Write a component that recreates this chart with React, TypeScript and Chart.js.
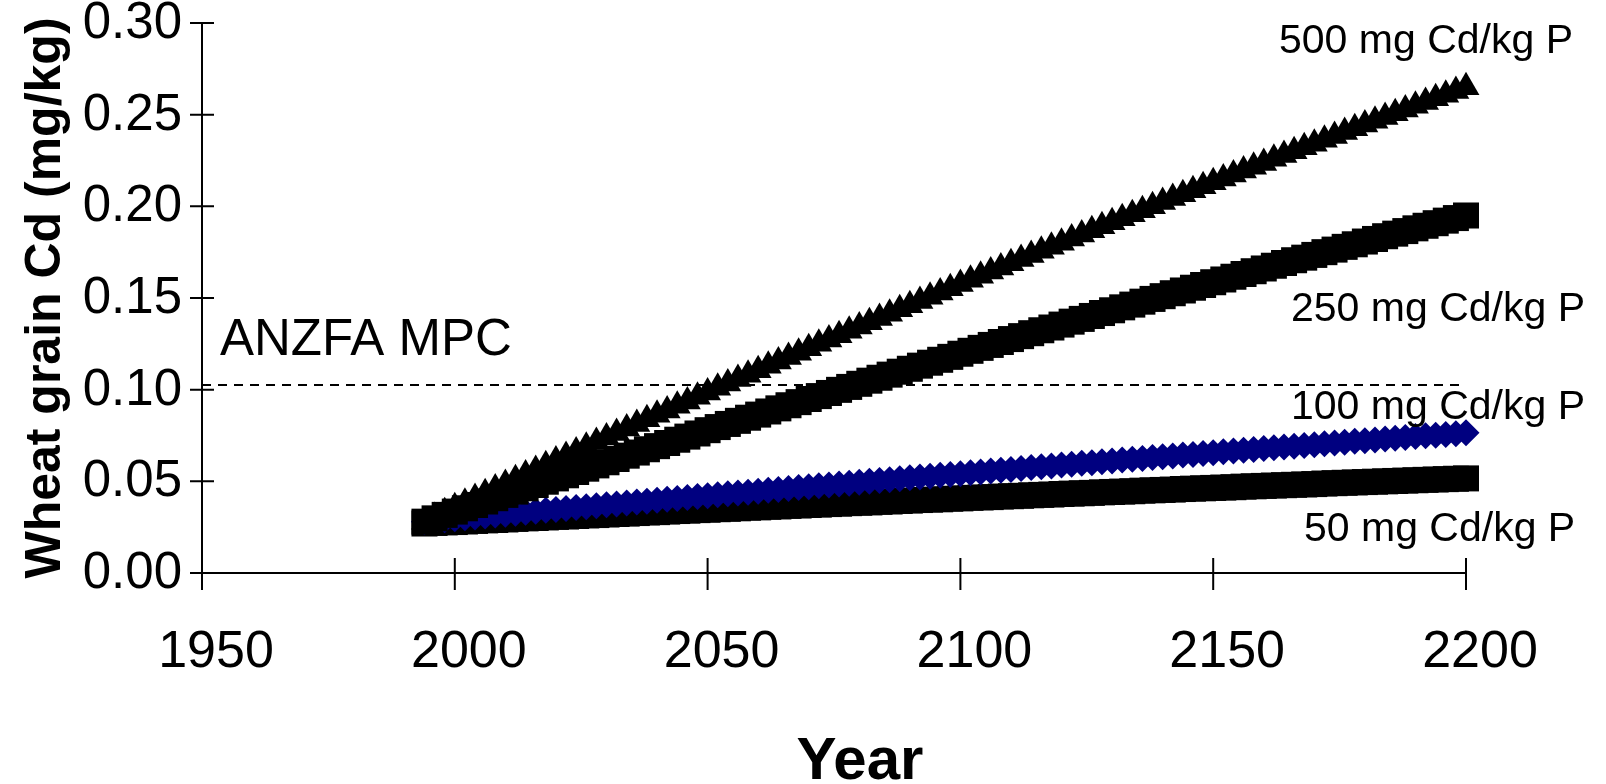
import React, { useEffect, useRef } from "react";
import { Chart, registerables } from "chart.js";

Chart.register(...registerables);

const years = [
  1994, 1996, 1998, 2000, 2002, 2004, 2006, 2008, 2010, 2012, 2014, 2016, 2018, 2020, 2022, 2024, 2026, 2028, 2030, 2032,
  2034, 2036, 2038, 2040, 2042, 2044, 2046, 2048, 2050, 2052, 2054, 2056, 2058, 2060, 2062, 2064, 2066, 2068, 2070, 2072,
  2074, 2076, 2078, 2080, 2082, 2084, 2086, 2088, 2090, 2092, 2094, 2096, 2098, 2100, 2102, 2104, 2106, 2108, 2110, 2112,
  2114, 2116, 2118, 2120, 2122, 2124, 2126, 2128, 2130, 2132, 2134, 2136, 2138, 2140, 2142, 2144, 2146, 2148, 2150, 2152,
  2154, 2156, 2158, 2160, 2162, 2164, 2166, 2168, 2170, 2172, 2174, 2176, 2178, 2180, 2182, 2184, 2186, 2188, 2190, 2192,
  2194, 2196, 2198, 2200,
];

const cd500 = [
  0.028, 0.0306, 0.0332, 0.0358, 0.0383, 0.0409, 0.0435, 0.0461, 0.0486, 0.0512,
  0.0537, 0.0562, 0.0588, 0.0613, 0.0638, 0.0663, 0.0689, 0.0714, 0.0739, 0.0763,
  0.0788, 0.0813, 0.0838, 0.0863, 0.0887, 0.0912, 0.0936, 0.0961, 0.0985, 0.101,
  0.1034, 0.1058, 0.1082, 0.1106, 0.113, 0.1154, 0.1178, 0.1202, 0.1226, 0.125,
  0.1273, 0.1297, 0.1321, 0.1344, 0.1368, 0.1391, 0.1414, 0.1438, 0.1461, 0.1484,
  0.1507, 0.153, 0.1553, 0.1576, 0.1599, 0.1622, 0.1645, 0.1667, 0.169, 0.1713,
  0.1735, 0.1758, 0.178, 0.1802, 0.1825, 0.1847, 0.1869, 0.1891, 0.1913, 0.1935,
  0.1957, 0.1979, 0.2001, 0.2023, 0.2045, 0.2066, 0.2088, 0.2109, 0.2131, 0.2152,
  0.2174, 0.2195, 0.2216, 0.2237, 0.2259, 0.228, 0.2301, 0.2322, 0.2342, 0.2363,
  0.2384, 0.2405, 0.2426, 0.2446, 0.2467, 0.2487, 0.2508, 0.2528, 0.2548, 0.2569,
  0.2589, 0.2609, 0.2629, 0.2649,
];

const cd250 = [
  0.028, 0.0298, 0.0317, 0.0335, 0.0353, 0.0371, 0.039, 0.0408, 0.0426, 0.0444,
  0.0462, 0.048, 0.0498, 0.0516, 0.0533, 0.0551, 0.0569, 0.0587, 0.0604, 0.0622,
  0.064, 0.0657, 0.0675, 0.0692, 0.0709, 0.0727, 0.0744, 0.0761, 0.0779, 0.0796,
  0.0813, 0.083, 0.0847, 0.0864, 0.0881, 0.0898, 0.0915, 0.0932, 0.0949, 0.0965,
  0.0982, 0.0999, 0.1015, 0.1032, 0.1049, 0.1065, 0.1082, 0.1098, 0.1114, 0.1131,
  0.1147, 0.1163, 0.1179, 0.1196, 0.1212, 0.1228, 0.1244, 0.126, 0.1276, 0.1292,
  0.1308, 0.1324, 0.1339, 0.1355, 0.1371, 0.1386, 0.1402, 0.1418, 0.1433, 0.1449,
  0.1464, 0.148, 0.1495, 0.151, 0.1526, 0.1541, 0.1556, 0.1571, 0.1586, 0.1601,
  0.1616, 0.1631, 0.1646, 0.1661, 0.1676, 0.1691, 0.1706, 0.172, 0.1735, 0.175,
  0.1764, 0.1779, 0.1793, 0.1808, 0.1822, 0.1837, 0.1851, 0.1865, 0.188, 0.1894,
  0.1908, 0.1922, 0.1936, 0.195,
];

const cd100 = [
  0.028, 0.0285, 0.029, 0.0296, 0.0301, 0.0306, 0.0311, 0.0316, 0.0321, 0.0326,
  0.0332, 0.0337, 0.0342, 0.0347, 0.0352, 0.0357, 0.0362, 0.0367, 0.0372, 0.0377,
  0.0382, 0.0387, 0.0392, 0.0397, 0.0402, 0.0407, 0.0412, 0.0417, 0.0422, 0.0427,
  0.0432, 0.0437, 0.0441, 0.0446, 0.0451, 0.0456, 0.0461, 0.0466, 0.0471, 0.0476,
  0.048, 0.0485, 0.049, 0.0495, 0.05, 0.0504, 0.0509, 0.0514, 0.0519, 0.0523,
  0.0528, 0.0533, 0.0537, 0.0542, 0.0547, 0.0551, 0.0556, 0.0561, 0.0565, 0.057,
  0.0575, 0.0579, 0.0584, 0.0589, 0.0593, 0.0598, 0.0602, 0.0607, 0.0611, 0.0616,
  0.062, 0.0625, 0.063, 0.0634, 0.0638, 0.0643, 0.0647, 0.0652, 0.0656, 0.0661,
  0.0665, 0.067, 0.0674, 0.0679, 0.0683, 0.0687, 0.0692, 0.0696, 0.07, 0.0705,
  0.0709, 0.0713, 0.0718, 0.0722, 0.0726, 0.0731, 0.0735, 0.0739, 0.0744, 0.0748,
  0.0752, 0.0756, 0.076, 0.0765,
];

const cd50 = [
  0.027, 0.0273, 0.0276, 0.0278, 0.0281, 0.0284, 0.0287, 0.0289, 0.0292, 0.0295,
  0.0298, 0.03, 0.0303, 0.0306, 0.0308, 0.0311, 0.0314, 0.0316, 0.0319, 0.0322,
  0.0324, 0.0327, 0.033, 0.0332, 0.0335, 0.0338, 0.034, 0.0343, 0.0345, 0.0348,
  0.035, 0.0353, 0.0356, 0.0358, 0.0361, 0.0363, 0.0366, 0.0368, 0.0371, 0.0373,
  0.0376, 0.0378, 0.0381, 0.0383, 0.0385, 0.0388, 0.039, 0.0393, 0.0395, 0.0398,
  0.04, 0.0402, 0.0405, 0.0407, 0.041, 0.0412, 0.0414, 0.0417, 0.0419, 0.0421,
  0.0424, 0.0426, 0.0428, 0.0431, 0.0433, 0.0435, 0.0437, 0.044, 0.0442, 0.0444,
  0.0446, 0.0449, 0.0451, 0.0453, 0.0455, 0.0458, 0.046, 0.0462, 0.0464, 0.0466,
  0.0468, 0.0471, 0.0473, 0.0475, 0.0477, 0.0479, 0.0481, 0.0483, 0.0485, 0.0488,
  0.049, 0.0492, 0.0494, 0.0496, 0.0498, 0.05, 0.0502, 0.0504, 0.0506, 0.0508,
  0.051, 0.0512, 0.0514, 0.0516,
];

const mpcYears = [1950, 2200];
const mpcValue = [0.1025, 0.1025];

const xTicks = [1950, 2000, 2050, 2100, 2150, 2200];
const yTicks = [0, 0.05, 0.1, 0.15, 0.2, 0.25, 0.3];
const yTickLabels = ["0.00", "0.05", "0.10", "0.15", "0.20", "0.25", "0.30"];

const seriesLabels = ["500 mg Cd/kg P", "250 mg Cd/kg P", "100 mg Cd/kg P", "50 mg Cd/kg P"];
const mpcLabel = "ANZFA MPC";
const xTitle = "Year";
const yTitle = "Wheat grain Cd (mg/kg)";

const FONT = '"Liberation Sans", Arial, Helvetica, sans-serif';

const drawPlugin = {
  id: "customAxes",
  beforeDatasetsDraw(chart: any) {
    const ctx = chart.ctx;
    const xs = chart.scales.x;
    const ys = chart.scales.y;
    const x0 = xs.getPixelForValue(xTicks[0]);
    const x1 = xs.getPixelForValue(xTicks[xTicks.length - 1]);
    const y0 = ys.getPixelForValue(yTicks[0]);
    const yTop = ys.getPixelForValue(yTicks[yTicks.length - 1]);
    ctx.save();
    ctx.strokeStyle = "#000";
    ctx.lineWidth = 2;
    ctx.beginPath();
    ctx.moveTo(x0, yTop);
    ctx.lineTo(x0, y0 + 17);
    ctx.moveTo(x0 - 12, y0);
    ctx.lineTo(x1, y0);
    yTicks.forEach((v) => {
      const p = ys.getPixelForValue(v);
      ctx.moveTo(x0 - 12, p);
      ctx.lineTo(x0 + 12, p);
    });
    xTicks.forEach((v) => {
      const p = xs.getPixelForValue(v);
      ctx.moveTo(p, y0 - 15);
      ctx.lineTo(p, y0 + 17);
    });
    ctx.stroke();

    ctx.fillStyle = "#000";
    ctx.font = `51px ${FONT}`;
    ctx.textAlign = "right";
    ctx.textBaseline = "middle";
    yTicks.forEach((v, i) => {
      ctx.fillText(yTickLabels[i], x0 - 20, ys.getPixelForValue(v) + 1);
    });
    ctx.textAlign = "center";
    ctx.textBaseline = "middle";
    ctx.font = `52px ${FONT}`;
    xTicks.forEach((v) => {
      ctx.fillText(String(v), xs.getPixelForValue(v) + 14, y0 + 80);
    });

    ctx.font = `bold 60px ${FONT}`;
    ctx.fillText(xTitle, 860, 762);

    ctx.save();
    ctx.translate(46, (y0 + yTop) / 2);
    ctx.rotate(-Math.PI / 2);
    ctx.font = `bold 50px ${FONT}`;
    ctx.fillText(yTitle, 0, 0);
    ctx.restore();

    ctx.font = `51px ${FONT}`;
    ctx.textAlign = "left";
    ctx.fillText(mpcLabel, 220, 341);
    ctx.restore();
  },
  afterDraw(chart: any) {
    const ctx = chart.ctx;
    ctx.save();
    ctx.fillStyle = "#000";
    ctx.font = `41px ${FONT}`;
    ctx.textAlign = "left";
    ctx.textBaseline = "middle";
    ctx.fillText(seriesLabels[0], 1279, 42);
    ctx.fillText(seriesLabels[1], 1291, 310);
    ctx.fillText(seriesLabels[2], 1291, 408);
    ctx.fillText(seriesLabels[3], 1304, 530);
    ctx.restore();
  },
};

export default function App() {
  const ref = useRef<HTMLCanvasElement | null>(null);
  useEffect(() => {
    document.body.style.margin = "0";
    const canvas = ref.current;
    if (!canvas) return;
    const toPts = (vals: number[]) => years.map((x, i) => ({ x, y: vals[i] }));
    const chart = new Chart(canvas, {
      type: "scatter",
      data: {
        datasets: [
          {
            label: seriesLabels[0],
            data: toPts(cd500),
            pointStyle: "triangle",
            pointRadius: 15.5,
            pointBackgroundColor: "#000",
            pointBorderColor: "#000",
            pointBorderWidth: 0,
            showLine: false,
            order: 0,
            clip: false,
          },
          {
            label: seriesLabels[1],
            data: toPts(cd250),
            pointStyle: "rect",
            pointRadius: 18.4,
            pointBackgroundColor: "#000",
            pointBorderColor: "#000",
            pointBorderWidth: 0,
            showLine: false,
            order: 1,
            clip: false,
          },
          {
            label: seriesLabels[2],
            data: toPts(cd100),
            pointStyle: "rectRot",
            pointRadius: 13.5,
            pointBackgroundColor: "#000080",
            pointBorderColor: "#000080",
            pointBorderWidth: 0,
            showLine: false,
            order: 2,
            clip: false,
          },
          {
            label: seriesLabels[3],
            data: toPts(cd50),
            pointStyle: "rect",
            pointRadius: 18.4,
            pointBackgroundColor: "#000",
            pointBorderColor: "#000",
            pointBorderWidth: 0,
            showLine: false,
            order: 3,
            clip: false,
          },
          {
            label: mpcLabel,
            data: mpcYears.map((x, i) => ({ x, y: mpcValue[i] })),
            showLine: true,
            borderColor: "#000",
            borderWidth: 2,
            borderDash: [9, 7],
            pointRadius: 0,
            order: 10,
            clip: false,
          } as any,
        ],
      },
      options: {
        animation: false,
        responsive: false,
        devicePixelRatio: 1,
        layout: { padding: { left: 202, right: 140, top: 23, bottom: 211 } },
        plugins: { legend: { display: false }, tooltip: { enabled: false } },
        events: [],
        scales: {
          x: { type: "linear", min: 1950, max: 2200, display: false },
          y: { type: "linear", min: 0, max: 0.3, display: false },
        },
      },
      plugins: [drawPlugin],
    });
    return () => chart.destroy();
  }, []);
  return (
    <div style={{ position: "absolute", left: 0, top: 0, width: 1606, height: 784, background: "#fff" }}>
      <canvas ref={ref} width={1606} height={784} style={{ width: 1606, height: 784 }} />
    </div>
  );
}
